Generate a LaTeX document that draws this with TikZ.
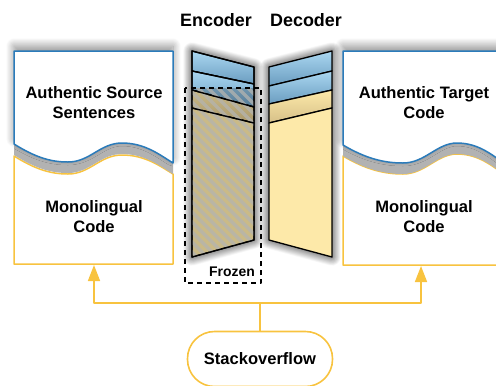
\documentclass[tikz,border=0pt]{standalone}
\usepackage{fontspec}
\setmainfont{Liberation Sans}
\usetikzlibrary{arrows.meta,shadows.blur}
\definecolor{cblue}{HTML}{2B7BBA}
\definecolor{cyel}{HTML}{F8C33F}
\definecolor{lyel}{HTML}{FDE9A9}
\definecolor{dyel}{HTML}{D6C088}
\definecolor{lblue}{HTML}{AAD7F1}
\definecolor{dblue}{HTML}{6A9CBF}
\definecolor{hatch}{HTML}{B4B4B0}

\begin{document}
\begin{tikzpicture}[x=1bp, y=-1bp, line join=round,
    txt/.style={font=\bfseries\fontsize{16.6}{20}\selectfont, align=center},
    head/.style={font=\bfseries\fontsize{18}{20}\selectfont},
    conn/.style={draw=cyel, line width=1.6bp},
    layer/.style={draw=black, line width=1.3bp},
    bluelayer/.style={layer, top color=lblue, bottom color=dblue},
    tanlayer/.style={layer, top color=lyel, bottom color=dyel},
    biglayer/.style={layer, fill=lyel},
    dropshadow/.style={blur shadow={shadow xshift=0bp, shadow yshift=0bp,
        shadow blur steps=30, shadow blur radius=9bp, shadow opacity=90}},
    docshadow/.style={blur shadow={shadow xshift=0bp, shadow yshift=5bp,
        shadow blur steps=30, shadow blur radius=8bp, shadow opacity=45}}]
  \useasboundingbox (0,0) rectangle (496,385);

  % left document
  \draw[cyel, line width=1.5bp, fill=white] (14,156) .. controls (35,169) and (50,174) .. (68,174)
      .. controls (90,174) and (100,155) .. (122,155) .. controls (145,155) and (160,166) .. (173,174)
      -- (173,264) -- (14,264) -- cycle;
  \fill[gray!60, yshift=-11bp] (14,51) -- (173,51) -- (173,163)
      .. controls (160,155) and (145,143) .. (122,143) .. controls (100,143) and (90,162) .. (68,162)
      .. controls (50,162) and (35,157) .. (14,144) -- cycle;
  \draw[cblue, line width=1.5bp, fill=white, docshadow] (14,51) -- (173,51) -- (173,163)
      .. controls (160,155) and (145,143) .. (122,143) .. controls (100,143) and (90,162) .. (68,162)
      .. controls (50,162) and (35,157) .. (14,144) -- cycle;

  % right document
  \draw[cyel, line width=1.5bp, fill=white] (343,156) .. controls (365,169) and (383,174) .. (403,174)
      .. controls (425,174) and (437,154) .. (457,154) .. controls (480,154) and (495,168) .. (510,179)
      -- (510,265) -- (343,265) -- cycle;
  \fill[gray!60, yshift=-11bp] (343,51) -- (510,51) -- (510,168)
      .. controls (495,157) and (480,143) .. (457,143) .. controls (437,143) and (425,163) .. (403,163)
      .. controls (383,163) and (365,158) .. (343,145) -- cycle;
  \draw[cblue, line width=1.5bp, fill=white, docshadow] (343,51) -- (510,51) -- (510,168)
      .. controls (495,157) and (480,143) .. (457,143) .. controls (437,143) and (425,163) .. (403,163)
      .. controls (383,163) and (365,158) .. (343,145) -- cycle;

  \node[txt] (src) at (94,103) {Authentic Source\\Sentences};
  \node[txt] (mono1) at (94,217) {Monolingual\\Code};
  \node[txt] (tgt) at (424,103) {Authentic Target\\Code};
  \node[txt] (mono2) at (424,217) {Monolingual\\Code};

  % encoder
  \fill[lyel, dropshadow] (192,51) -- (254,67) -- (254,240) -- (192,257) -- cycle;
  \path[bluelayer] (192,51) -- (254,67) -- (254,84) -- (192,71) -- cycle;
  \path[bluelayer] (192,71) -- (254,84) -- (254,107) -- (192,90) -- cycle;
  \path[tanlayer] (192,90) -- (254,107) -- (254,123) -- (192,108) -- cycle;
  \path[biglayer] (192,108) -- (254,123) -- (254,240) -- (192,257) -- cycle;
  \begin{scope}
    \clip (192,51) -- (254,67) -- (254,240) -- (192,257) -- cycle;
    \clip (185,88) rectangle (261,283);
    \fill[black, opacity=0.2] (185,88) rectangle (261,283);
    \foreach \k in {-12,...,30}
      \draw[hatch, line width=3.2bp, opacity=0.75] (170,10*\k) -- ++(110,110);
  \end{scope}
  \draw[layer] (192,51) -- (254,67) -- (254,240) -- (192,257) -- cycle
      (192,71) -- (254,84) (192,90) -- (254,107) (192,108) -- (254,123);

  % decoder
  \fill[lyel, dropshadow] (269,67) -- (332,51) -- (332,257) -- (269,240) -- cycle;
  \path[bluelayer] (269,67) -- (332,51) -- (332,71) -- (269,86) -- cycle;
  \path[bluelayer] (269,86) -- (332,71) -- (332,90) -- (269,104) -- cycle;
  \path[tanlayer] (269,104) -- (332,90) -- (332,108) -- (269,123) -- cycle;
  \path[biglayer] (269,123) -- (332,108) -- (332,257) -- (269,240) -- cycle;

  \node[head] (enc) at (216,20) {Encoder};
  \node[head] (dec) at (306,20) {Decoder};

  % frozen part
  \draw[black, line width=1.3bp, dash pattern=on 5bp off 4bp] (185,88) rectangle (261,283);
  \node[font=\bfseries\fontsize{14}{16}\selectfont] (frz) at (232,272) {Frozen};

  % data source
  \node[txt, draw=cyel, line width=1.6bp, rounded corners=27bp,
        minimum width=145bp, minimum height=55bp] (so) at (260,359) {Stackoverflow};
  \coordinate (hub) at (260,303);
  \coordinate (srcin) at (94,265);
  \coordinate (tgtin) at (421,266);
  \draw[conn] (so) -- (hub);
  \draw[conn, -{Triangle[width=12bp,length=16bp]}] (hub) -| (srcin);
  \draw[conn, -{Triangle[width=12bp,length=16bp]}] (hub) -| (tgtin);
\end{tikzpicture}
\end{document}
